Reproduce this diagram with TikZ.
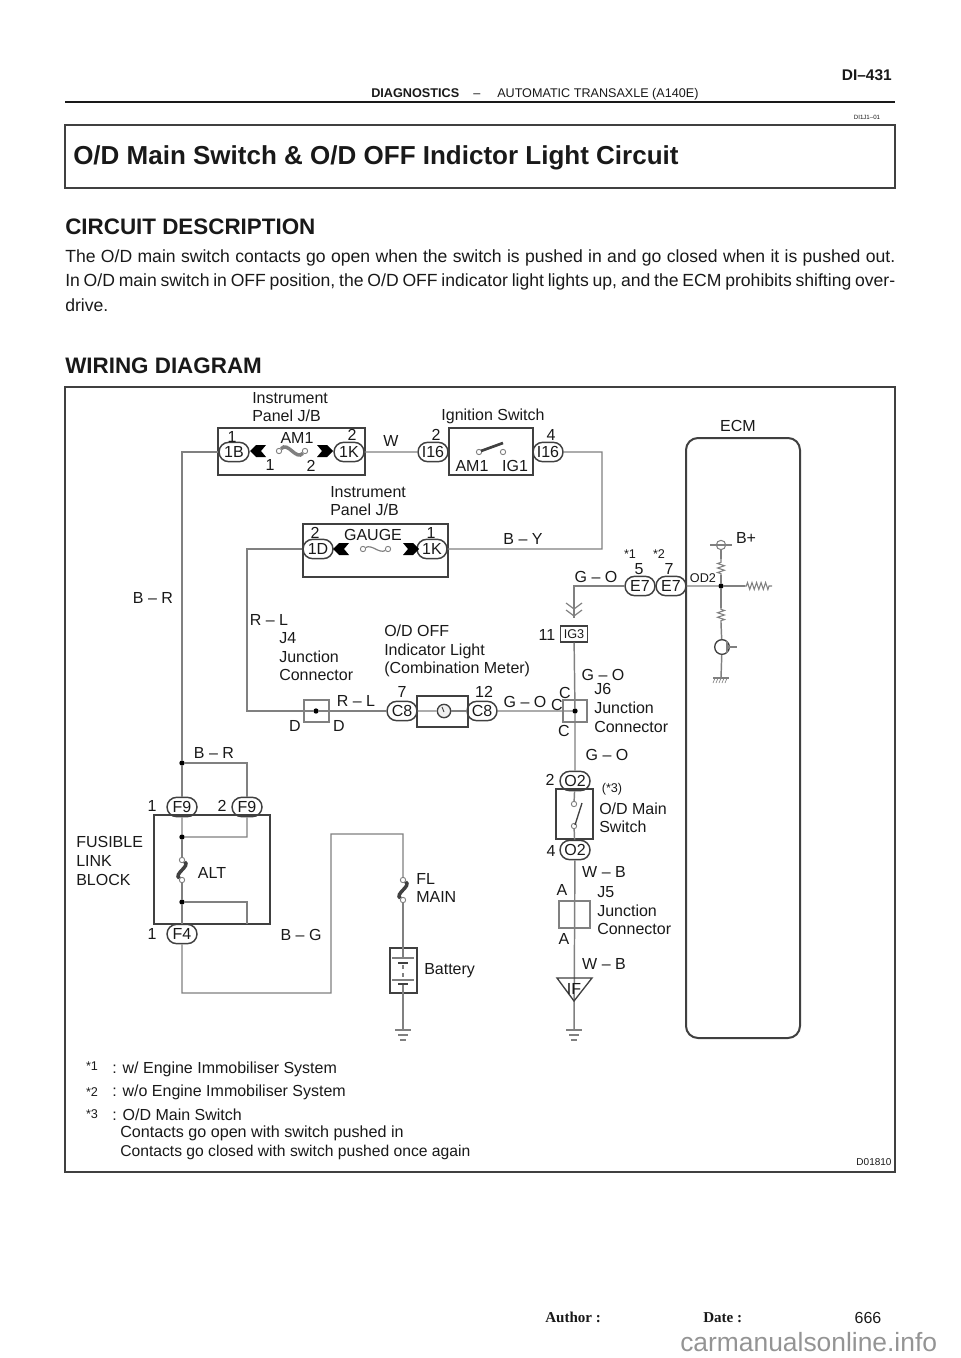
\documentclass[tikz,border=0pt]{standalone}
\usepackage{fontspec}
\setmainfont{Liberation Sans}
\newfontfamily\timesfont{Liberation Serif}
\usetikzlibrary{shapes.misc,decorations.pathmorphing}
\definecolor{wiregray}{gray}{0.5}
\definecolor{boxgray}{gray}{0.25}
\definecolor{inkgray}{gray}{0.1}
\tikzset{
    wire/.style={draw=wiregray,line width=1.1pt},
    unitbox/.style={draw=boxgray,line width=1.5pt},
    junctbox/.style={draw=wiregray,line width=1.1pt},
    conn/.style={draw=boxgray,line width=1.1pt,rounded rectangle,inner sep=0pt,minimum width=22.5pt,minimum height=14.5pt,text=inkgray,font=\fontsize{12}{14}\selectfont},
    lbl/.style={inner sep=0pt,text=inkgray,font=\fontsize{12}{13.9}\selectfont},
    leftlbl/.style={lbl,anchor=west,align=left},
    smalllbl/.style={inner sep=0pt,text=inkgray,font=\fontsize{9.5}{11}\selectfont},
    body/.style={inner sep=0pt,anchor=west,text=inkgray,font=\fontsize{13.2}{15}\selectfont},
    head/.style={inner sep=0pt,anchor=west,text=inkgray,font=\fontsize{16.8}{18}\bfseries},
    dot/.style={circle,fill=black,inner sep=0pt,minimum size=4pt},
    fusepin/.style={circle,draw=wiregray,fill=white,line width=0.7pt,inner sep=0pt,minimum size=4pt},
    fusewire/.style={draw=boxgray,line width=2.6pt},
    thinwire/.style={draw=wiregray,line width=0.9pt},
    resistor/.style={draw=wiregray,line width=0.8pt,decorate,decoration={zigzag,segment length=3.4pt,amplitude=2.6pt,pre length=1pt,post length=1pt}}
}
\newcommand{\blade}[3]{\fill[black] (#1,#2) -- ({#1+#3*6},#2-6) -- ({#1+#3*16},#2-6) -- ({#1+#3*11},#2) -- ({#1+#3*16},#2+6) -- ({#1+#3*6},#2+6) -- cycle;}
\newcommand{\earth}[2]{
    \draw[thinwire] (#1-8,#2) -- (#1+8,#2);
    \draw[thinwire] (#1-5,#2+5) -- (#1+5,#2+5);
    \draw[thinwire] (#1-3,#2+10) -- (#1+3,#2+10);
}
\begin{document}
\begin{tikzpicture}[x=0.75pt,y=-0.75pt]
    \useasboundingbox (0,0) rectangle (960,1358);

    \draw[line width=1.5pt,draw=inkgray] (65,102) -- (895,102);
    \node[inner sep=0pt,anchor=base west,text=inkgray,font=\fontsize{9.5}{12}\bfseries] (hdA) at (371,98) {DIAGNOSTICS};
    \node[inner sep=0pt,anchor=base,text=inkgray,font=\fontsize{9.5}{12}\selectfont] (hdB) at (477,98) {–};
    \node[inner sep=0pt,anchor=base west,text=inkgray,font=\fontsize{9.45}{12}\selectfont] (hdC) at (497,98) {AUTOMATIC TRANSAXLE (A140E)};
    \node[inner sep=0pt,anchor=east,text=inkgray,font=\fontsize{11.6}{14}\bfseries] (hdD) at (892,75) {DI–431};
    \node[inner sep=0pt,text=inkgray,font=\fontsize{4.6}{6}\selectfont] (hdE) at (867,117) {DI1J1–01};

    \draw[unitbox] (65,125) rectangle (895,188);
    \node[head,font=\fontsize{19.5}{22}\bfseries] (title) at (73,158) {O/D Main Switch \& O/D OFF Indictor Light Circuit};
    \node[head] (descr) at (65,227) {CIRCUIT DESCRIPTION};
    \node[body] (paraA) at (65,257.5) {\makebox[622.5pt][s]{The O/D main switch contacts go open when the switch is pushed in and go closed when it is pushed out.}};
    \node[body] (paraB) at (65,281.5) {\makebox[622.5pt][s]{In O/D main switch in OFF position, the O/D OFF indicator light lights up, and the ECM prohibits shifting over-}};
    \node[body] (paraC) at (65,305) {drive.};
    \node[head] (wiring) at (65,366) {WIRING DIAGRAM};

    \draw[unitbox] (65,387) rectangle (895,1172);
    \node[inner sep=0pt,text=inkgray,font=\fontsize{7.5}{9}\selectfont] (partno) at (874,1162) {D01810};

    \draw[unitbox] (218,428) rectangle (365,475);
    \draw[unitbox] (449,428) rectangle (533,475);
    \draw[unitbox] (303,524) rectangle (448,577);
    \draw[unitbox] (417,696) rectangle (468,727);
    \draw[unitbox] (154,815) rectangle (270,924);
    \draw[unitbox] (556,789) rectangle (593,839);
    \draw[unitbox,line width=1.2pt] (390,948) rectangle (417,993);
    \draw[unitbox,rounded corners=9pt] (686,438) rectangle (800,1038);
    \draw[junctbox] (304,700) rectangle (329,722);
    \draw[junctbox] (563,700) rectangle (587,722);
    \draw[junctbox] (559,901) rectangle (590,928);

    \node[conn] (cOneB) at (234,452) {1B};
    \node[conn] (cOneKa) at (349,452) {1K};
    \node[conn] (cIsixa) at (433,452) {I16};
    \node[conn] (cIsixb) at (548,452) {I16};
    \node[conn] (cOneD) at (318,549) {1D};
    \node[conn] (cOneKb) at (432,549) {1K};
    \node[conn] (cEa) at (640,586) {E7};
    \node[conn] (cEb) at (671,586) {E7};
    \node[conn] (cCa) at (402,711) {C8};
    \node[conn] (cCb) at (482,711) {C8};
    \node[conn] (cOa) at (575,781) {O2};
    \node[conn] (cOb) at (575,850) {O2};
    \node[conn] (cFa) at (182,807) {F9};
    \node[conn] (cFb) at (247,807) {F9};
    \node[conn] (cFc) at (182,934) {F4};
    \node[draw=boxgray,line width=0.9pt,inner sep=0pt,minimum width=20pt,minimum height=12pt,text=inkgray,font=\fontsize{9.5}{11}\selectfont] (cIG) at (574,634) {IG3};

    \node[dot] (dotJfour) at (316,711) {};
    \node[dot] (dotJsix) at (575,711) {};
    \node[dot] (dotA) at (182,763) {};
    \node[dot] (dotB) at (182,837) {};
    \node[dot] (dotC) at (182,902) {};
    \node[dot] (dotD) at (721,586) {};

    \node[fusepin] (pinAa) at (279,451) {};
    \node[fusepin] (pinAb) at (305,451) {};
    \node[fusepin] (pinBa) at (363,549) {};
    \node[fusepin] (pinBb) at (388,549) {};
    \node[fusepin] (pinCa) at (182,860) {};
    \node[fusepin] (pinCb) at (182,880) {};
    \node[fusepin] (pinDa) at (403,880) {};
    \node[fusepin] (pinDb) at (403,900) {};
    \node[fusepin] (pinEa) at (479,452) {};
    \node[fusepin] (pinEb) at (503,452) {};
    \node[fusepin] (pinFa) at (574,804) {};
    \node[fusepin] (pinFb) at (574,826) {};

    \coordinate (bendA) at (182,452);
    \coordinate (bendB) at (602,452);
    \coordinate (bendC) at (602,549);
    \coordinate (bendD) at (247,549);
    \coordinate (bendE) at (247,711);
    \coordinate (bendF) at (574,586);
    \coordinate (bendG) at (574,618);
    \coordinate (bendH) at (182,993);
    \coordinate (bendI) at (331,993);
    \coordinate (bendJ) at (331,834);
    \coordinate (bendK) at (403,834);
    \coordinate (bendL) at (247,763);
    \coordinate (bendM) at (247,837);
    \coordinate (bendN) at (247,902);
    \coordinate (bendO) at (247,924);
    \coordinate (battTop) at (403,958);
    \coordinate (battBot) at (403,984);
    \coordinate (gndA) at (403,1030);
    \coordinate (gndB) at (574,1030);
    \coordinate (resEnd) at (772,586);
    \coordinate (resMid) at (745,586);
    \coordinate (resUpA) at (721,575);
    \coordinate (resUpB) at (721,559);
    \coordinate (resDnA) at (721,608);
    \coordinate (resDnB) at (721,623);
    \coordinate (gndC) at (721,678);

    \draw[wire] (cOneB) -- (bendA) -- (dotA);
    \draw[wire] (dotA) -- (cFa);
    \draw[wire] (dotA) -- (bendL) -- (cFb);
    \draw[wire] (cFb) -- (bendM) -- (dotB);
    \draw[wire] (cFa) -- (dotB);
    \draw[wire] (dotB) -- (pinCa);
    \draw[wire] (pinCb) -- (dotC);
    \draw[wire] (dotC) -- (cFc);
    \draw[wire] (dotC) -- (bendN) -- (bendO);
    \draw[wire] (cFc) -- (bendH) -- (bendI) -- (bendJ) -- (bendK) -- (pinDa);
    \draw[wire] (pinDb) -- (battTop);
    \draw[wire] (battBot) -- (gndA);
    \draw[wire] (cOneKa) -- (cIsixa);
    \draw[wire] (cIsixb) -- (bendB) -- (bendC) -- (cOneKb);
    \draw[wire] (cOneD) -- (bendD) -- (bendE) -- (dotJfour);
    \draw[wire] (dotJfour) -- (cCa);
    \draw[wire] (cCb) -- (dotJsix);
    \draw[wire] (cEa) -- (bendF) -- (bendG);
    \draw[wire] (cIG) -- (dotJsix);
    \draw[wire] (dotJsix) -- (cOa);
    \draw[wire] (cOa) -- (pinFa);
    \draw[wire] (pinFb) -- (cOb);
    \draw[wire] (cOb) -- (gndB);
    \draw[wire] (cEb) -- (dotD);

    \blade{250}{451}{1}
    \blade{333}{451}{-1}
    \blade{333}{549}{1}
    \blade{419}{549}{-1}

    \draw[fusewire,draw=wiregray] (pinAa) .. controls (288,441) and (296,461) .. (pinAb);
    \draw[thinwire] (pinBa) .. controls (372,544) and (379,554) .. (pinBb);
    \draw[fusewire] (pinCa) .. controls (191,866) and (173,874) .. (pinCb);
    \draw[fusewire] (pinDa) .. controls (412,886) and (394,894) .. (pinDb);
    \draw[fusewire,line width=2pt] (481,451) -- (503,443);
    \draw[draw=boxgray,line width=1pt] (575,825) -- (582,803);

    \draw[draw=wiregray,line width=1.1pt] (392,958) -- (414,958);
    \draw[draw=boxgray,line width=1.4pt] (398,963) -- (408,963);
    \draw[draw=wiregray,line width=0.8pt,dashed] (403,965) -- (403,978);
    \draw[draw=wiregray,line width=1.1pt] (392,980) -- (414,980);
    \draw[draw=boxgray,line width=1.4pt] (398,984) -- (408,984);

    \earth{403}{1030}
    \earth{574}{1030}

    \draw[thinwire] (566,610) -- (574,616) -- (582,610);
    \draw[thinwire] (566,603) -- (574,609) -- (582,603);
    \draw[draw=boxgray,line width=1pt] (557,978) -- (592,978) -- (574,1001) -- cycle;

    \node[circle,draw=boxgray,fill=black!6,line width=1pt,inner sep=0pt,minimum size=10pt] (meter) at (444,711) {};
    \draw[wire] (cCa) -- (meter);
    \draw[wire] (meter) -- (cCb);
    \draw[draw=boxgray,line width=0.7pt] (444,712) -- (442,707);

    \node[circle,draw=wiregray,line width=0.8pt,inner sep=0pt,minimum size=7pt] (bplus) at (721,545) {};
    \draw[thinwire] (710,545) -- (732,545);
    \draw[wire] (dotD) -- (resMid);
    \draw[resistor] (resMid) -- (resEnd);
    \draw[wire] (dotD) -- (resUpA);
    \draw[resistor] (resUpA) -- (resUpB);
    \draw[wire] (resUpB) -- (bplus);
    \draw[wire] (dotD) -- (resDnA);
    \draw[resistor] (resDnA) -- (resDnB);
    \node[circle,draw=boxgray,line width=1pt,inner sep=0pt,minimum size=11pt] (transistor) at (722,647) {};
    \draw[wire] (resDnB) -- (transistor);
    \draw[wire] (transistor) -- (gndC);
    \draw[thinwire] (727,641) -- (727,653);
    \draw[thinwire] (727,647) -- (737,647);
    \draw[thinwire] (713,678) -- (729,678);
    \foreach \hx in {714,717,720,723,726} {
        \draw[draw=wiregray,line width=0.5pt] (\hx+1,678) -- (\hx-1,683);
    }

    \node[leftlbl] (lbPanelA) at (252,407) {Instrument\\Panel J/B};
    \node[leftlbl] (lbPanelB) at (330,501) {Instrument\\Panel J/B};
    \node[lbl] (lbIgn) at (493,416.5) {Ignition Switch};
    \node[lbl] (lbEcm) at (738,426) {ECM};
    \node[lbl] (lbAmA) at (297,438) {AM1};
    \node[lbl] (lbAmB) at (472,466) {AM1};
    \node[lbl] (lbIg) at (515,466) {IG1};
    \node[lbl] (lbGauge) at (373,535) {GAUGE};
    \node[lbl] (lbNa) at (232,437) {1};
    \node[lbl] (lbNb) at (352,435) {2};
    \node[lbl] (lbNc) at (270,465) {1};
    \node[lbl] (lbNd) at (311,466) {2};
    \node[lbl] (lbNe) at (436,435) {2};
    \node[lbl] (lbNf) at (551,435) {4};
    \node[lbl] (lbNg) at (315,533) {2};
    \node[lbl] (lbNh) at (431,533) {1};
    \node[lbl] (lbNi) at (639,569) {5};
    \node[lbl] (lbNj) at (669,569) {7};
    \node[lbl] (lbNk) at (547,635) {11};
    \node[lbl] (lbNl) at (402,692) {7};
    \node[lbl] (lbNm) at (484,692) {12};
    \node[lbl] (lbNn) at (550,780) {2};
    \node[lbl] (lbNo) at (551,851) {4};
    \node[lbl] (lbNp) at (152,806) {1};
    \node[lbl] (lbNq) at (222,806) {2};
    \node[lbl] (lbNr) at (152,934) {1};
    \node[lbl] (lbW) at (391,441) {W};
    \node[lbl] (lbBY) at (523,539) {B – Y};
    \node[lbl] (lbGOa) at (596,577) {G – O};
    \node[lbl] (lbGOb) at (603,675) {G – O};
    \node[lbl] (lbGOc) at (525,702) {G – O};
    \node[lbl] (lbGOd) at (607,755) {G – O};
    \node[lbl] (lbBRa) at (153,598) {B – R};
    \node[lbl] (lbBRb) at (214,753) {B – R};
    \node[lbl] (lbRLa) at (269,620) {R – L};
    \node[lbl] (lbRLb) at (356,701) {R – L};
    \node[lbl] (lbBG) at (301,935) {B – G};
    \node[lbl] (lbWBa) at (604,872) {W – B};
    \node[lbl] (lbWBb) at (604,964) {W – B};
    \node[lbl] (lbDa) at (295,726) {D};
    \node[lbl] (lbDb) at (339,726) {D};
    \node[lbl] (lbCa) at (565,693) {C};
    \node[lbl] (lbCb) at (557,705) {C};
    \node[lbl] (lbCc) at (564,731) {C};
    \node[lbl] (lbAa) at (562,890) {A};
    \node[lbl] (lbAb) at (564,939) {A};
    \node[lbl] (lbIF) at (574,989) {IF};
    \node[lbl] (lbAlt) at (212,873) {ALT};
    \node[lbl] (lbBplus) at (746,538) {B+};
    \node[leftlbl] (lbJfour) at (279,657) {J4\\Junction\\Connector};
    \node[leftlbl] (lbJsix) at (594,708) {J6\\Junction\\Connector};
    \node[leftlbl] (lbJfive) at (597,911) {J5\\Junction\\Connector};
    \node[leftlbl] (lbMeter) at (384,651) {O/D OFF\\Indicator Light\\(Combination Meter)};
    \node[leftlbl] (lbMain) at (599,818) {O/D Main\\Switch};
    \node[leftlbl] (lbFuse) at (416,888) {FL\\MAIN};
    \node[leftlbl] (lbBatt) at (424,971) {Battery};
    \node[leftlbl] (lbBlock) at (76,861) {FUSIBLE\\LINK\\BLOCK};
    \node[smalllbl] (lbOd) at (703,578) {OD2};
    \node[smalllbl] (lbStarA) at (630,554) {*1};
    \node[smalllbl] (lbStarB) at (659,554) {*2};
    \node[smalllbl] (lbStarC) at (612,789) {(*3)};

    \node[smalllbl] (noteStarA) at (92,1066) {*1};
    \node[smalllbl] (noteStarB) at (92,1092) {*2};
    \node[smalllbl] (noteStarC) at (92,1114) {*3};
    \node[leftlbl] (noteA) at (112,1069) {: w/ Engine Immobiliser System};
    \node[leftlbl] (noteB) at (112,1092) {: w/o Engine Immobiliser System};
    \node[leftlbl] (noteC) at (112,1115) {: O/D Main Switch};
    \node[leftlbl,font=\fontsize{12.1}{14}\selectfont] (noteD) at (120,1133) {Contacts go open with switch pushed in};
    \node[leftlbl,font=\fontsize{11.75}{14}\selectfont] (noteE) at (120,1152) {Contacts go closed with switch pushed once again};

    \node[inner sep=0pt,anchor=base west,text=inkgray,font=\timesfont\fontsize{11.3}{14}\bfseries] (footA) at (545,1322) {Author :};
    \node[inner sep=0pt,anchor=base west,text=inkgray,font=\timesfont\fontsize{11.3}{14}\bfseries] (footB) at (703,1322) {Date :};
    \node[inner sep=0pt,text=inkgray,font=\fontsize{12}{14}\selectfont] (footC) at (868,1318) {666};
    \node[inner sep=0pt,anchor=west,text=black!42,font=\fontsize{19.8}{24}\selectfont] (watermark) at (680,1342) {carmanualsonline.info};
\end{tikzpicture}
\end{document}
